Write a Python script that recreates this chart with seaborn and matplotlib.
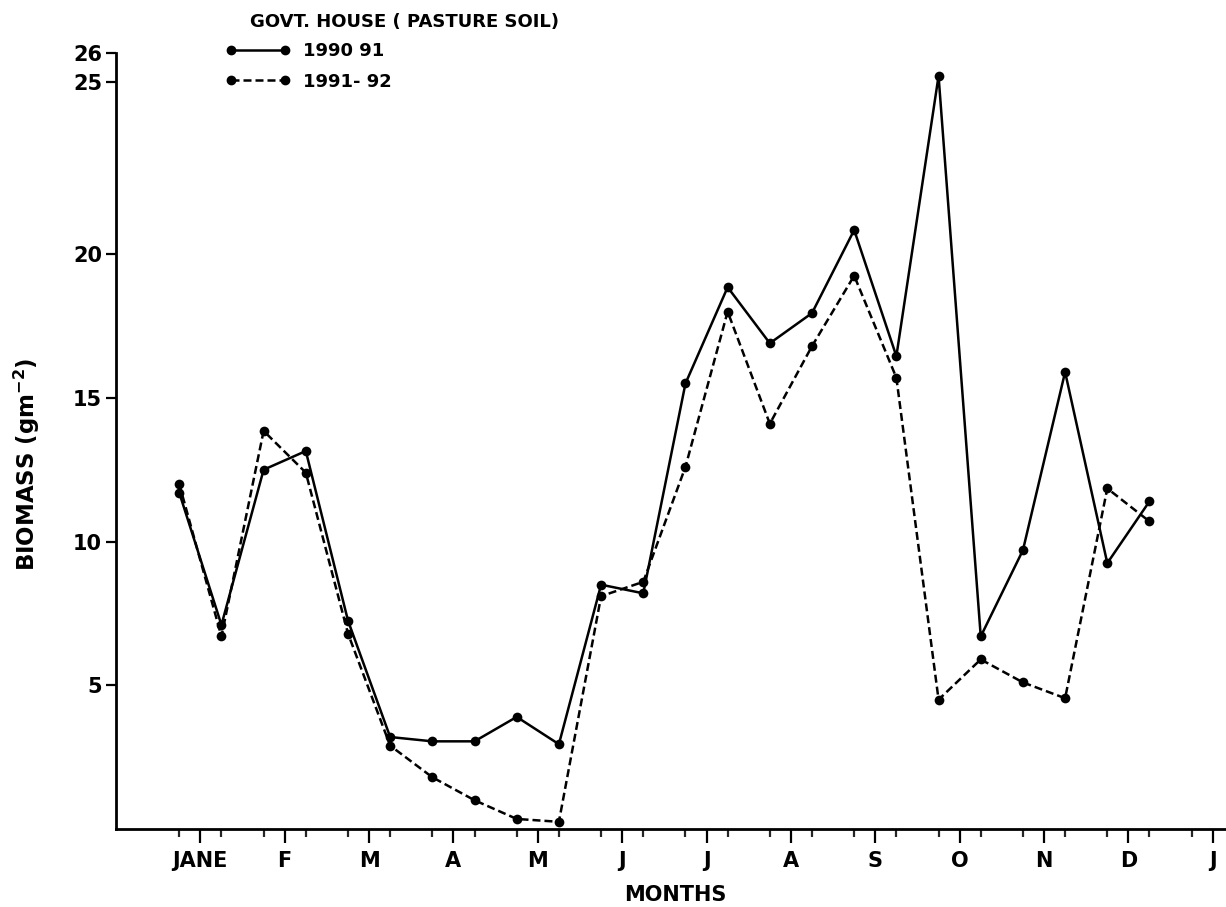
import numpy as np
import pandas as pd
import matplotlib
matplotlib.use("Agg")
import matplotlib.pyplot as plt
from matplotlib.lines import Line2D
import seaborn as sns

# sampling dates, in months counted from 1 January (two samples a month)
sample_t = [0.25, 0.75, 1.25, 1.75, 2.25, 2.75, 3.25, 3.75, 4.25, 4.75, 5.25, 5.75,
            6.25, 6.75, 7.25, 7.75, 8.25, 8.75, 9.25, 9.75, 10.25, 10.75, 11.25, 11.75]

# biomass (g m-2)
biomass_9091 = [11.7, 7.1, 12.5, 13.15, 7.25, 3.2, 3.05, 3.05, 3.9, 2.95, 8.5, 8.2,
                15.5, 18.85, 16.9, 17.95, 20.7, 16.45, 25.2, 6.7, 9.7, 15.9, 9.25, 11.4]
biomass_9192 = [12.0, 6.7, 13.85, 12.4, 6.8, 2.9, 1.8, 1.0, 0.35, 0.25, 8.1, 8.6,
                12.6, 18.0, 14.1, 16.8, 19.25, 15.7, 4.5, 5.9, 5.1, 4.55, 11.85, 10.7]

season_labels = ["1990 91", "1991- 92"]
month_labels = ["JANE", "F", "M", "A", "M", "J", "J", "A", "S", "O", "N", "D", "J"]
y_ticks = [5, 10, 15, 20, 25, 26]

df = pd.DataFrame({
    "t": sample_t + sample_t,
    "biomass": biomass_9091 + biomass_9192,
    "season": [season_labels[0]] * len(sample_t) + [season_labels[1]] * len(sample_t),
})

sns.set_style("ticks")
plt.rcParams["font.family"] = ["DejaVu Sans"]
plt.rcParams["font.weight"] = "bold"
plt.rcParams["mathtext.default"] = "bf"
plt.rcParams["text.color"] = "black"
plt.rcParams["axes.labelcolor"] = "black"


# the original y axis is stretched between 20 and 25
def fwd(y):
    y = np.asarray(y, dtype=float)
    return np.where(y <= 20, y, np.where(y <= 25, 20 + (y - 20) * 1.2, 26 + (y - 25)))


def inv(z):
    z = np.asarray(z, dtype=float)
    return np.where(z <= 20, z, np.where(z <= 26, 20 + (z - 20) / 1.2, 25 + (z - 26)))


fig = plt.figure(figsize=(12.26, 9.07), dpi=100)
ax = fig.add_axes([0.0946, 0.086, 0.9118, 0.8556])

dash = (3.2, 1.6)
sns.lineplot(data=df, x="t", y="biomass", style="season", color="black",
             markers={season_labels[0]: "o", season_labels[1]: "o"},
             dashes={season_labels[0]: "", season_labels[1]: dash},
             markersize=7, markeredgecolor="black", markeredgewidth=0,
             linewidth=1.8, estimator=None, legend=False, ax=ax)

ax.set_yscale("function", functions=(fwd, inv))
ax.set_ylim(0, 26)
ax.set_xlim(-0.5, 12.6)

ax.set_yticks(y_ticks)
ax.set_yticklabels([str(v) for v in y_ticks], fontsize=15)
ax.set_xticks(np.arange(len(month_labels)) + 0.5)
ax.set_xticklabels(month_labels, fontsize=15)
ax.set_xticks(np.sort(np.concatenate([np.arange(13) + 0.25, np.arange(13) + 0.75])), minor=True)
ax.yaxis.set_minor_locator(matplotlib.ticker.NullLocator())

ax.tick_params(axis="x", which="major", length=10, width=1.6, pad=6, colors="black")
ax.tick_params(axis="x", which="minor", length=6, width=1.6)
ax.tick_params(axis="y", which="major", length=7, width=1.6, pad=3, colors="black")

sns.despine(ax=ax)
for s in ["left", "bottom"]:
    ax.spines[s].set_linewidth(2)
    ax.spines[s].set_color("black")

ax.set_xlabel("MONTHS", fontsize=15, fontweight="bold", labelpad=10)
ax.set_ylabel("BIOMASS (gm$^{-2}$)", fontsize=16.5, fontweight="bold")
ax.yaxis.set_label_coords(-0.066, 0.47)

fig.text(250 / 1226, 1 - 22 / 907, "GOVT. HOUSE ( PASTURE SOIL)", fontsize=13,
         fontweight="bold", ha="left", va="center")

handles = [
    Line2D([], [], color="black", lw=1.8, marker="o", markersize=6),
    Line2D([], [], color="black", lw=1.8, ls=(0, dash), marker="o", markersize=6),
]
fig.legend(handles, season_labels, loc="upper left", bbox_to_anchor=(226 / 1226, 1 - 42 / 907),
           frameon=False, numpoints=2, handlelength=3.55, handletextpad=0.72,
           labelspacing=0.7, borderpad=0, borderaxespad=0, fontsize=13)

fig.savefig("out.png", dpi=100)
